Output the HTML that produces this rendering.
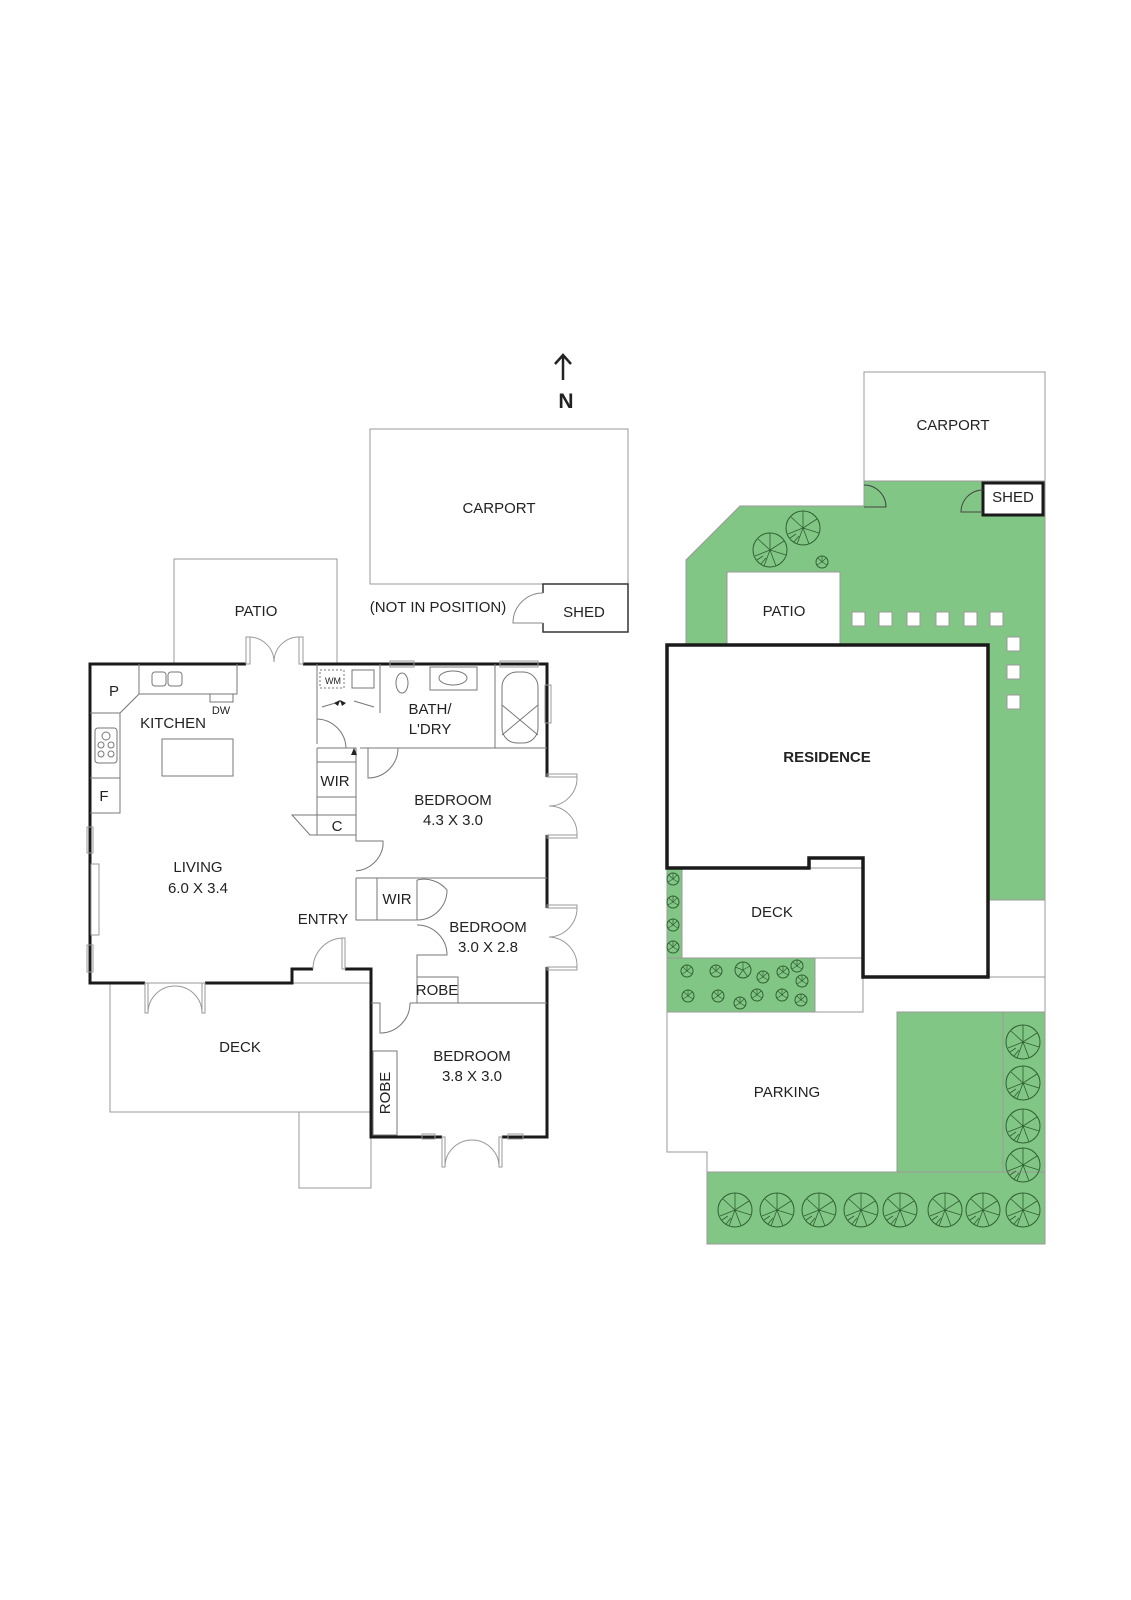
<!DOCTYPE html>
<html><head><meta charset="utf-8"><style>
html,body{margin:0;padding:0;background:#fff;}
svg{display:block;}
text{font-family:"Liberation Sans",sans-serif;font-size:15px;fill:#222;text-anchor:middle;}
</style></head><body>
<svg width="1131" height="1600" viewBox="0 0 1131 1600" xmlns="http://www.w3.org/2000/svg">
<defs>
<g id="tree">
<circle r="17" fill="none" stroke="#2f5f33" stroke-width="1"/>
<path d="M0 0L0 -17M0 0L14 -9M0 0L16 5M0 0L6 16M0 0L-6 16M0 0L-15 6M0 0L-12 -11M-9 14L-4 8M-13 10L-7 6" stroke="#2f5f33" stroke-width="0.8" fill="none"/>
</g>
<g id="bush">
<circle r="6" fill="none" stroke="#2f5f33" stroke-width="1"/>
<path d="M0 0L0 -6M0 0L5 3M0 0L-5 3M0 0L4 -4M0 0L-4 -4" stroke="#2f5f33" stroke-width="0.7"/>
</g>
</defs>

<!-- N arrow -->
<path d="M563 380L563 356M555 364L563 355L571 364" stroke="#222" stroke-width="2.5" fill="none"/>
<text x="566" y="408" style="font-size:21px;font-weight:bold">N</text>

<!-- LEFT PLAN -->
<g fill="none" stroke="#999" stroke-width="1">
<rect x="370" y="429" width="258" height="155"/>
<path d="M174 664L174 559L337 559L337 664"/>
<rect x="110" y="983" width="261" height="129"/>
<path d="M299 1112L299 1188L371 1188L371 1137"/>
</g>
<path d="M543 593L543 584L628 584L628 632L543 632L543 623" stroke="#333" stroke-width="1.5" fill="none"/>
<path d="M543 623L513 623A30 30 0 0 1 543 593" stroke="#888" fill="none"/>
<text x="499" y="513">CARPORT</text>
<text x="438" y="612">(NOT IN POSITION)</text>
<text x="584" y="617">SHED</text>
<text x="256" y="616">PATIO</text>

<g stroke="#1a1a1a" stroke-width="3" fill="none">
<path d="M246 664L90 664L90 983L145 983"/>
<path d="M303 664L547 664L547 777"/>
<path d="M547 835L547 908"/>
<path d="M547 967L547 1137L502 1137"/>
<path d="M442 1137L371 1137L371 969L345 969"/>
<path d="M313 969L292 969L292 983L205 983"/>
</g>
<g stroke="#999" fill="none" stroke-width="1">
<rect x="246" y="637" width="4" height="27"/><rect x="299" y="637" width="4" height="27"/>
<path d="M250 637A25 25 0 0 1 274 662M299 637A25 25 0 0 0 274 662"/>
<rect x="145" y="983" width="3" height="30"/><rect x="202" y="983" width="3" height="30"/>
<path d="M148 1013A27 27 0 0 1 175 986M202 1013A27 27 0 0 0 175 986"/>
<rect x="342" y="938" width="3" height="31"/>
<path d="M313 969A31 31 0 0 1 342 938"/>
<rect x="547" y="774" width="30" height="3"/><rect x="547" y="835" width="30" height="3"/>
<path d="M577 777A28 28 0 0 1 549 806M577 835A28 28 0 0 0 549 806"/>
<rect x="547" y="905" width="30" height="3"/><rect x="547" y="967" width="30" height="3"/>
<path d="M577 908A29 29 0 0 1 549 937M577 967A29 29 0 0 0 549 937"/>
<rect x="442" y="1137" width="3" height="30"/><rect x="499" y="1137" width="3" height="30"/>
<path d="M445 1167A27 27 0 0 1 472 1140M499 1167A27 27 0 0 0 472 1140"/>
<rect x="422" y="1134" width="13" height="5"/><rect x="508" y="1134" width="15" height="5"/>
<rect x="87" y="827" width="6" height="26"/><rect x="87" y="945" width="6" height="27"/>
<rect x="91" y="864" width="8" height="71"/>
<rect x="390" y="661" width="24" height="6"/><rect x="500" y="661" width="38" height="6"/>
<rect x="545" y="685" width="6" height="38"/>
</g>
<g stroke="#777" stroke-width="1" fill="none">
<path d="M139 664L139 694L120 713L90 713M139 694L237 694L237 664"/>
<path d="M120 713L120 813L90 813M90 778L120 778"/>
<rect x="152" y="672" width="14" height="14" rx="3"/><rect x="168" y="672" width="14" height="14" rx="3"/>
<rect x="210" y="694" width="23" height="8"/>
<rect x="95" y="728" width="22" height="35" rx="3"/>
<circle cx="106" cy="736" r="4"/><circle cx="101" cy="745" r="3"/><circle cx="111" cy="745" r="3"/><circle cx="101" cy="754" r="3"/><circle cx="111" cy="754" r="3"/>
<rect x="162" y="739" width="71" height="37"/>
<path d="M317 664L317 713M380 664L380 713"/>
<rect x="320" y="670" width="24" height="18" stroke-dasharray="2 2"/>
<rect x="352" y="670" width="22" height="18"/>
<path d="M322 707L342 701M374 707L354 701"/>
<ellipse cx="402" cy="683" rx="6" ry="10"/>
<rect x="430" y="667" width="47" height="23"/><ellipse cx="453" cy="678" rx="14" ry="7"/>
<path d="M495 664L495 748"/>
<rect x="502" y="672" width="36" height="71" rx="15"/>
<path d="M502 705L538 735M538 705L502 735"/>
<path d="M317 713L317 744M346 748A30 30 0 0 0 317 719"/>
<path d="M317 748L356 748L356 835L317 835L317 748M317 762L356 762M317 797L356 797M317 815L356 815M292 815L317 815L317 835L310 835Z"/>
<path d="M360 748L398 748L547 748M398 748A30 30 0 0 1 368 778L368 748"/>
<path d="M356 835L356 841L383 841L383 846A30 30 0 0 1 356 871"/>
<path d="M356 878L547 878M356 878L356 920L417 920L417 880M377 878L377 920"/>
<path d="M417 880A30 30 0 0 1 447 890A30 30 0 0 1 417 920"/>
<path d="M417 925A30 30 0 0 1 447 955L417 955L417 1003"/>
<path d="M417 977L458 977L458 1003M410 1003L547 1003"/>
<path d="M410 1003A30 30 0 0 1 380 1033L380 1003L371 1003"/>
<rect x="373" y="1051" width="24" height="84"/>
</g>
<g fill="#222"><path d="M334 703l6 -3l-2 6zM346 703l-6 -3l2 6zM354 748l-3 7l6 0z"/></g>
<text x="114" y="696">P</text>
<text x="173" y="728">KITCHEN</text>
<text x="221" y="714" style="font-size:11px">DW</text>
<text x="104" y="801">F</text>
<text x="333" y="684" style="font-size:9px">WM</text>
<text x="430" y="714">BATH/</text>
<text x="430" y="734">L'DRY</text>
<text x="335" y="786">WIR</text>
<text x="337" y="831">C</text>
<text x="453" y="805">BEDROOM</text>
<text x="453" y="825">4.3 X 3.0</text>
<text x="198" y="872">LIVING</text>
<text x="198" y="893">6.0 X 3.4</text>
<text x="397" y="904">WIR</text>
<text x="323" y="924">ENTRY</text>
<text x="488" y="932">BEDROOM</text>
<text x="488" y="952">3.0 X 2.8</text>
<text x="437" y="995">ROBE</text>
<text x="240" y="1052">DECK</text>
<text x="472" y="1061">BEDROOM</text>
<text x="472" y="1081">3.8 X 3.0</text>
<text transform="translate(390 1093) rotate(-90)">ROBE</text>

<!-- RIGHT SITE PLAN -->
<g stroke="#999" stroke-width="1">
<polygon points="864,481 1045,481 1045,900 988,900 988,645 686,645 686,560 740,506 864,506" fill="#82c685"/>
<rect x="864" y="372" width="181" height="109" fill="#fff"/>
<rect x="727" y="572" width="113" height="73" fill="#fff"/>
<rect x="988" y="900" width="57" height="77" fill="#fff"/>
<path d="M863 977L1045 977L1045 1012L897 1012L897 1172L707 1172L707 1152L667 1152L667 1012L863 1012Z" fill="#fff"/>
<rect x="897" y="1012" width="148" height="160" fill="#82c685"/>
<path d="M1003 1012L1003 1172" fill="none"/>
<rect x="707" y="1172" width="338" height="72" fill="#82c685"/>
<rect x="667" y="868" width="15" height="90" fill="#82c685"/>
<rect x="682" y="868" width="181" height="90" fill="#fff"/>
<rect x="667" y="958" width="148" height="54" fill="#82c685"/>
<rect x="815" y="958" width="48" height="54" fill="#fff"/>
</g>
<rect x="983" y="483" width="60" height="32" fill="#fff" stroke="#1a1a1a" stroke-width="3"/>
<path d="M864 485A22 22 0 0 1 886 507L864 507M983 490A22 22 0 0 0 961 512L983 512" fill="none" stroke="#444"/>
<g fill="#fff" stroke="#999">
<rect x="852" y="612" width="13" height="14"/><rect x="879" y="612" width="13" height="14"/><rect x="907" y="612" width="13" height="14"/><rect x="936" y="612" width="13" height="14"/><rect x="964" y="612" width="13" height="14"/><rect x="990" y="612" width="13" height="14"/>
<rect x="1007" y="637" width="13" height="14"/><rect x="1007" y="665" width="13" height="14"/><rect x="1007" y="695" width="13" height="14"/>
</g>
<path d="M667 645L988 645L988 977L863 977L863 858L809 858L809 868L667 868Z" fill="#fff" stroke="#1a1a1a" stroke-width="3.5"/>
<use href="#tree" x="770" y="550"/><use href="#tree" x="803" y="528"/>
<use href="#bush" x="822" y="562"/>
<use href="#bush" x="673" y="879"/><use href="#bush" x="673" y="902"/><use href="#bush" x="673" y="925"/><use href="#bush" x="673" y="947"/>
<use href="#bush" x="687" y="971"/><use href="#bush" x="716" y="971"/><use href="#bush" x="763" y="977"/><use href="#bush" x="783" y="972"/><use href="#bush" x="797" y="966"/><use href="#bush" x="802" y="981"/>
<use href="#bush" x="688" y="996"/><use href="#bush" x="718" y="996"/><use href="#bush" x="740" y="1003"/><use href="#bush" x="757" y="995"/><use href="#bush" x="782" y="995"/><use href="#bush" x="801" y="1000"/>
<circle cx="743" cy="970" r="8" fill="none" stroke="#2f5f33"/>
<path d="M743 970L743 962M743 970L750 966M743 970L738 977M743 970L748 977M743 970L735 967" stroke="#2f5f33" stroke-width="0.7"/>
<use href="#tree" x="1023" y="1042"/><use href="#tree" x="1023" y="1083"/><use href="#tree" x="1023" y="1126"/><use href="#tree" x="1023" y="1165"/>
<use href="#tree" x="735" y="1210"/><use href="#tree" x="777" y="1210"/><use href="#tree" x="819" y="1210"/><use href="#tree" x="861" y="1210"/><use href="#tree" x="900" y="1210"/><use href="#tree" x="945" y="1210"/><use href="#tree" x="983" y="1210"/><use href="#tree" x="1023" y="1210"/>
<text x="953" y="430">CARPORT</text>
<text x="1013" y="502">SHED</text>
<text x="784" y="616">PATIO</text>
<text x="827" y="762" style="font-weight:bold">RESIDENCE</text>
<text x="772" y="917">DECK</text>
<text x="787" y="1097">PARKING</text>
</svg>
</body></html>
